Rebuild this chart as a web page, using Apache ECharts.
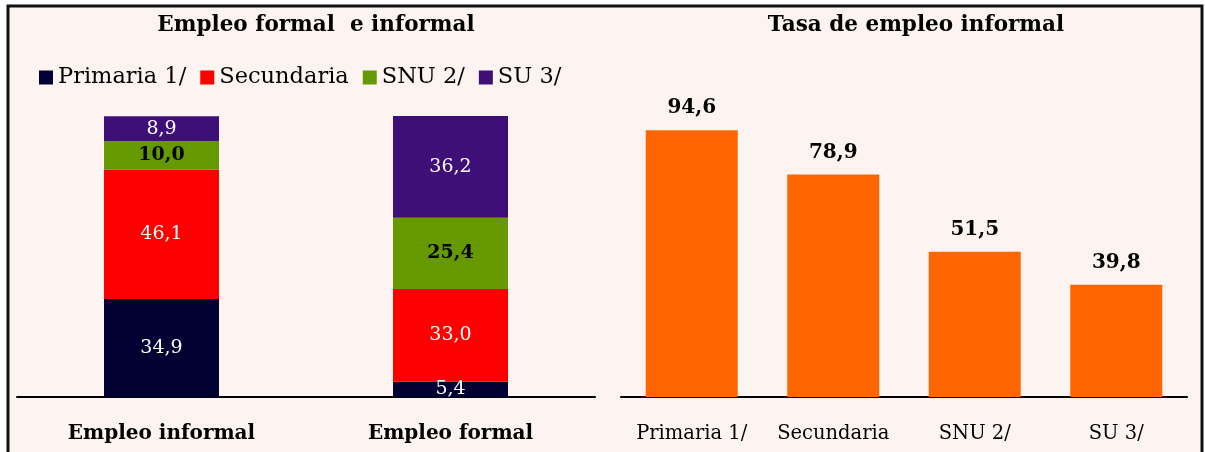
<!DOCTYPE html>
<html><head><meta charset="utf-8">
<script src="https://cdn.jsdelivr.net/npm/echarts@6/dist/echarts.min.js"></script>
<style>html,body{margin:0;padding:0;background:#fff;}#c{width:1205px;height:452px;}</style>
</head><body><div id="c"></div>
<script>
const leftCategories = ['Empleo informal', 'Empleo formal'];
const seriesNames = ['Primaria 1/', 'Secundaria', 'SNU 2/', 'SU 3/'];
const primaria = [34.9, 5.4];
const secundaria = [46.1, 33.0];
const snu = [10.0, 25.4];
const su = [8.9, 36.2];
const rightCategories = ['Primaria 1/', 'Secundaria', 'SNU 2/', 'SU 3/'];
const tasaInformal = [94.6, 78.9, 51.5, 39.8];

const FONT = '"DejaVu Serif", "Liberation Serif", serif';
const colors = ['#000033', '#ff0000', '#669900', '#3f0f78'];
const labelColors = ['#ffffff', '#ffffff', '#000000', '#ffffff'];
const fmt = p => p.value.toFixed(1).replace('.', ',');
const stacks = [primaria, secundaria, snu, su];

const chart = echarts.init(document.getElementById('c'));
chart.setOption({
  animation: false,
  backgroundColor: '#ffffff',
  graphic: [{
    type: 'rect', z: -10, silent: true,
    shape: {x: 8, y: 6, width: 1194, height: 500},
    style: {fill: '#fdf3f1', stroke: '#111', lineWidth: 3}
  }],
  title: [
    {text: 'Empleo formal  e informal', left: 311, top: 9, textAlign: 'center',
     textStyle: {fontFamily: FONT, fontWeight: 'bold', fontSize: 21.5, color: '#000'}},
    {text: 'Tasa de empleo informal', left: 911, top: 9, textAlign: 'center',
     textStyle: {fontFamily: FONT, fontWeight: 'bold', fontSize: 21.5, color: '#000'}}
  ],
  legend: {
    data: seriesNames, left: 34, top: 61, itemWidth: 14, itemHeight: 14, itemGap: 14,
    icon: 'rect', textStyle: {fontFamily: FONT, fontSize: 22.5, color: '#000'}
  },
  grid: [
    {left: 17, top: 116, width: 578, height: 281},
    {left: 621, top: 115, width: 566, height: 282}
  ],
  xAxis: [
    {type: 'category', gridIndex: 0, data: leftCategories,
     axisLine: {lineStyle: {color: '#000', width: 2}}, axisTick: {show: false},
     axisLabel: {interval: 0, margin: 27, fontFamily: FONT, fontWeight: 'bold', fontSize: 20, color: '#000'}},
    {type: 'category', gridIndex: 1, data: rightCategories,
     axisLine: {lineStyle: {color: '#000', width: 2}}, axisTick: {show: false},
     axisLabel: {interval: 0, hideOverlap: false, margin: 27, fontFamily: FONT, fontWeight: 'normal', fontSize: 19.5, color: '#000'}}
  ],
  yAxis: [
    {type: 'value', gridIndex: 0, min: 0, max: 100, show: false},
    {type: 'value', gridIndex: 1, min: 0, max: 100, show: false}
  ],
  series: seriesNames.map((n, i) => ({
    name: n, type: 'bar', stack: 'total', xAxisIndex: 0, yAxisIndex: 0,
    data: stacks[i], barWidth: 115, itemStyle: {color: colors[i]},
    label: {show: true, position: 'inside', formatter: fmt, fontFamily: FONT, fontSize: 19,
      fontWeight: i === 2 ? 'bold' : 'normal', color: labelColors[i]}
  })).concat([{
    name: 'Tasa', type: 'bar', xAxisIndex: 1, yAxisIndex: 1, data: tasaInformal,
    barWidth: 92, itemStyle: {color: '#ff6600'},
    label: {show: true, position: 'top', distance: 12, formatter: fmt, fontFamily: FONT,
      fontSize: 20, fontWeight: 'bold', color: '#000'}
  }])
});
</script></body></html>
